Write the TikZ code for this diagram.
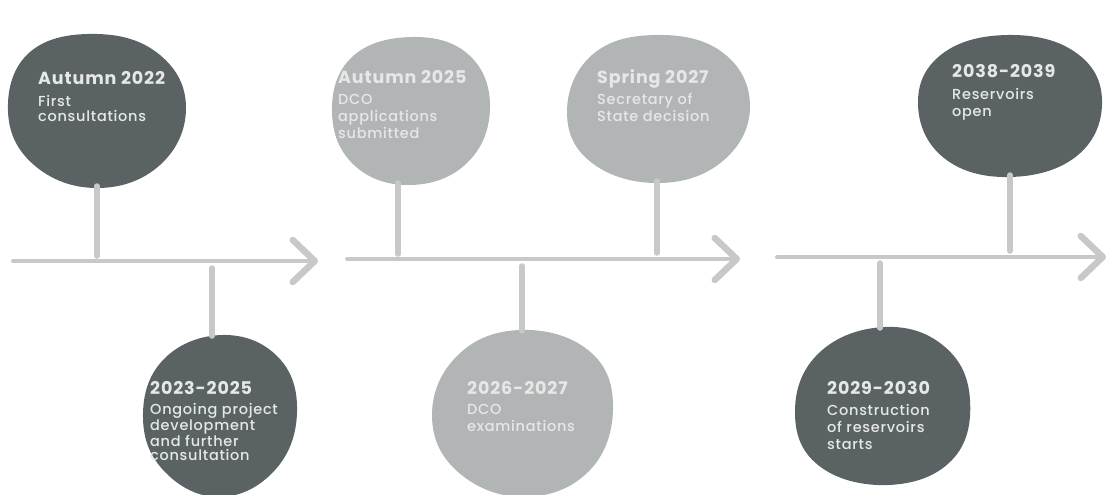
\documentclass[tikz,border=0pt]{standalone}
\usepackage{fontspec}
\setmainfont{Poppins}[UprightFont={* Medium},BoldFont={* Bold}]
\usetikzlibrary{arrows.meta}

\definecolor{blobdark}{HTML}{5B6263}
\definecolor{bloblight}{HTML}{B2B5B6}
\definecolor{linegray}{HTML}{C6C8CA}
\definecolor{textlight}{HTML}{E6E8E8}

\newcommand{\evtitle}[1]{{\fontsize{17.5}{17}\selectfont\bfseries #1}}

\begin{document}
\begin{tikzpicture}[x=1pt,y=-1pt,
  dark/.style={fill=blobdark},
  light/.style={fill=bloblight},
  stem/.style={draw=linegray,line width=5.5pt,line cap=round},
  timeline/.style={draw=linegray,line width=4pt,line cap=round,
    -{Straight Barb[length=22pt,width=42pt,line width=6.5pt,round]}},
  evlabel/.style={anchor=north west,align=left,inner sep=0pt,text=textlight,
    font=\fontsize{14.5}{17}\selectfont\addfontfeature{LetterSpace=5}}]
  \useasboundingbox (0,0) rectangle (1108,495);

  % blobs
  \fill[dark]  plot[smooth cycle,tension=0.7] coordinates {(186,108) (160,165) (97,188) (34,165) (8,111) (30,52) (97,34) (160,55)};
  \fill[dark]  plot[smooth cycle,tension=0.7] coordinates {(297,412) (275,470) (220,497) (165,472) (143,418) (163,360) (222,335) (278,357)};
  \fill[light] plot[smooth cycle,tension=0.7] coordinates {(490,108) (467,163) (410,185) (354,165) (332,112) (352,57) (412,37) (469,55)};
  \fill[light] plot[smooth cycle,tension=0.7] coordinates {(750,105) (724,160) (660,183) (592,163) (567,112) (592,55) (655,35) (722,52)};
  \fill[light] plot[smooth cycle,tension=0.7] coordinates {(613,405) (590,470) (525,497) (458,472) (432,415) (458,355) (520,330) (588,350)};
  \fill[dark]  plot[smooth cycle,tension=0.7] coordinates {(1102,100) (1078,155) (1010,177) (944,158) (918,104) (942,54) (1008,35) (1075,52)};
  \fill[dark]  plot[smooth cycle,tension=0.7] coordinates {(970,400) (952,460) (888,485) (818,465) (795,410) (820,352) (885,327) (945,347)};

  % timeline pieces
  \coordinate (l1) at (13,261);  \coordinate (r1) at (318,261);
  \coordinate (l2) at (347,259); \coordinate (r2) at (740,259);
  \coordinate (l3) at (777,257); \coordinate (r3) at (1106,257);
  \draw[timeline] (l1) -- (r1);
  \draw[timeline] (l2) -- (r2);
  \draw[timeline] (l3) -- (r3);

  % stems
  \coordinate (bA) at (97,186);   \coordinate (xA) at (97,256);
  \coordinate (bB) at (212,336);  \coordinate (xB) at (212,268);
  \coordinate (bC) at (398,183);  \coordinate (xC) at (398,254);
  \coordinate (bD) at (657,181);  \coordinate (xD) at (657,253);
  \coordinate (bE) at (522,331);  \coordinate (xE) at (522,266);
  \coordinate (bF) at (1010,175); \coordinate (xF) at (1010,251);
  \coordinate (bG) at (880,328);  \coordinate (xG) at (880,263);
  \foreach \s in {A,B,C,D,E,F,G}
    \draw[stem] (b\s) -- (x\s);

  % labels
  \node[evlabel,font=\fontsize{14.5}{15}\selectfont\addfontfeature{LetterSpace=5}] (tA) at (38,71)
    {\evtitle{Autumn 2022}\\[7pt] First\\ consultations};
  \node[evlabel,font=\fontsize{14.5}{14.5}\selectfont\addfontfeature{LetterSpace=5}] (tB) at (150,381)
    {\evtitle{2023-2025}\\[6pt] Ongoing project\\ development\\ and further\\ consultation};
  \node[evlabel] (tC) at (338,70)  {\evtitle{Autumn 2025}\\[4pt] DCO\\ applications\\ submitted};
  \node[evlabel] (tD) at (597,69)  {\evtitle{Spring 2027}\\[4pt] Secretary of\\ State decision};
  \node[evlabel] (tE) at (467,381) {\evtitle{2026-2027}\\[3pt] DCO\\ examinations};
  \node[evlabel] (tF) at (952,64)  {\evtitle{2038-2039}\\[5pt] Reservoirs\\ open};
  \node[evlabel] (tG) at (827,381) {\evtitle{2029-2030}\\[4pt] Construction\\ of reservoirs\\ starts};
\end{tikzpicture}
\end{document}
